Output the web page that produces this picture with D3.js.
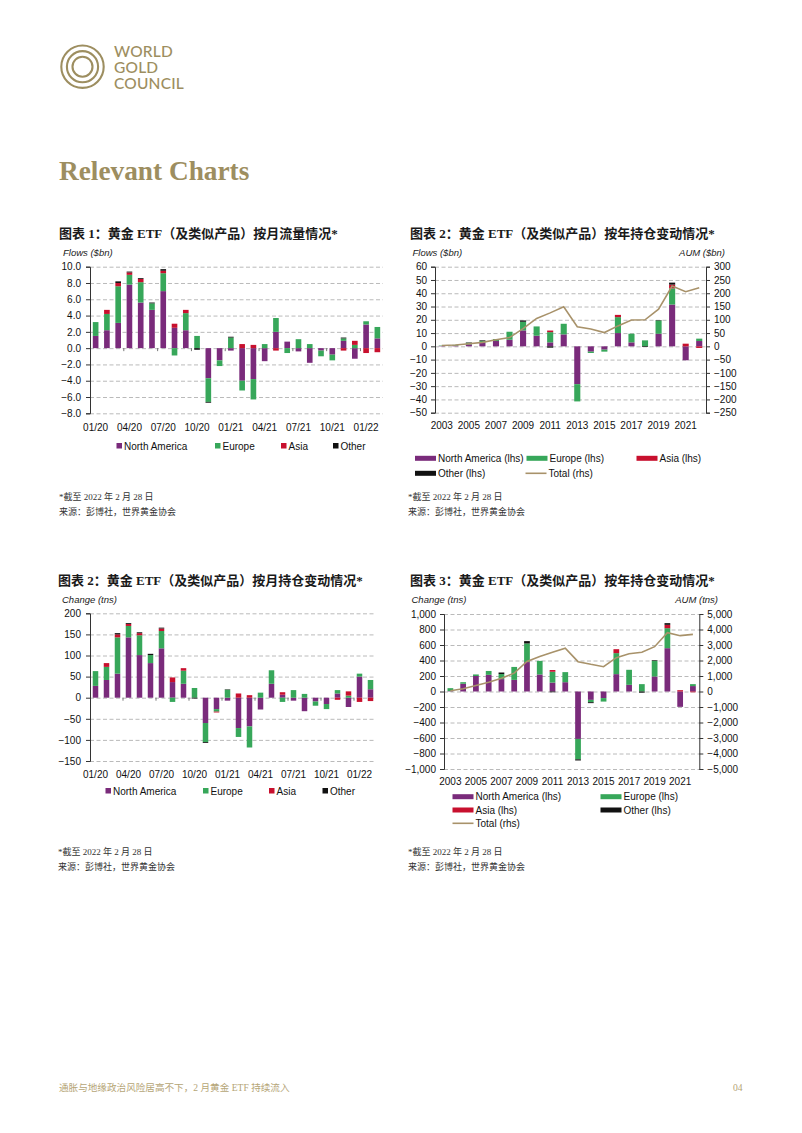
<!DOCTYPE html>
<html><head><meta charset="utf-8">
<script src="https://cdn.jsdelivr.net/npm/d3@7"></script>
<style>
body{margin:0;background:#fff;}
svg{display:block;}
</style></head>
<body>
<script>
// ---------- DATA ----------
const monthLabels = ["01/20","02/20","03/20","04/20","05/20","06/20","07/20","08/20","09/20","10/20","11/20","12/20",
  "01/21","02/21","03/21","04/21","05/21","06/21","07/21","08/21","09/21","10/21","11/21","12/21","01/22","02/22"];
const monthTickLabels = ["01/20","04/20","07/20","10/20","01/21","04/21","07/21","10/21","01/22"];

// Chart 1: monthly flows ($bn)
const flowNA    = [1.5,2.2,3.1,7.8,5.6,4.7,7.0,2.5,2.2,0,-3.7,-1.5,-0.3,-4.0,-3.8,-1.6,2.0,0.8,-0.4,-1.8,-0.3,-0.8,0.9,-1.3,2.9,1.2];
const flowEU    = [1.7,2.0,4.5,1.2,2.5,0.8,2.2,-0.9,2.1,1.5,-2.9,-0.7,1.3,-1.2,-2.5,0.5,1.7,-0.6,1.1,0.5,-0.7,-0.7,0.3,0.4,0.4,1.4];
const flowAsia  = [0,0.5,0.4,0.3,0.4,0,0.3,0.5,0.4,0,0,0,0,0.5,0.4,0,-0.3,0,0,0,0,0,-0.3,0.5,-0.6,-0.5];
const flowOther = [0,0,0.2,0.1,0.1,0.1,0.2,0,0,-0.2,-0.1,0,0.1,0,0,0,0,0,0,0,0,0,0.1,0,0,0];
const flowTicks = [-8,-6,-4,-2,0,2,4,6,8,10];

// Chart 3: monthly holdings change (tonnes)
const tnsNA    = [28,42,57,143,101,82,117,37,33,0,-60,-27,-7,-72,-68,-28,33,7,-7,-32,-9,-15,10,-22,50,20];
const tnsEU    = [35,31,86,27,47,19,41,-10,31,23,-45,-6,19,-21,-50,12,32,-10,18,9,-10,-12,8,5,7,22];
const tnsAsia  = [0,9,7,5,5,0,6,11,6,0,0,-2,0,10,6,0,0,6,0,0,0,0,-5,10,-10,-8];
const tnsOther = [0,0,3,2,2,3,2,0,0,-2,-2,0,1,0,0,0,0,0,0,0,0,0,0,0,0,0];
const tnsTicks = [-150,-100,-50,0,50,100,150,200];

// Chart 2: annual flows ($bn) and AUM ($bn)
const years = d3.range(2003, 2023).map(String);
const yearTickLabels = ["2003","2005","2007","2009","2011","2013","2015","2017","2019","2021"];
const yrFlowNA    = [0.3,0.6,1.5,2.5,4.0,5.0,12.0,8.0,3.0,9.0,-28.5,-4.0,-2.5,10.0,3.0,0,9.5,31.5,-10.5,4.0];
const yrFlowEU    = [0.3,0.5,1.2,1.5,1.5,6.0,6.5,7.0,7.7,8.0,-13.0,-1.0,-1.5,12.0,6.5,4.5,10.0,12.2,0,1.8];
const yrFlowAsia  = [0,0,0,0,0,0,0,0,1.2,0,0,0,0,1.7,0,0,0,2.8,2.0,-1.2];
const yrFlowOther = [0,0,0.3,0.5,0,0,1.0,0,-1.0,0,0,0,0,0,0,-0.5,0.3,1.5,0,0];
const aumUSD      = [3,5,10,15,25,33,67,105,126,149,74,65,52,77,99,100,140,227,206,221];
const yrFlowTicks = [-50,-40,-30,-20,-10,0,10,20,30,40,50,60];
const aumUSDTicks = [-250,-200,-150,-100,-50,0,50,100,150,200,250,300];

// Chart 4: annual holdings change (tonnes) and AUM (tonnes)
const yrTnsNA    = [5,100,200,215,160,150,380,220,115,120,-612,-108,-85,224,86,0,194,559,-198,70];
const yrTnsEU    = [38,20,20,50,65,167,240,175,140,130,-263,-30,-45,271,194,95,202,258,0,25];
const yrTnsAsia  = [0,0,0,0,0,0,0,0,22,0,0,0,0,51,0,0,0,43,17,-10];
const yrTnsOther = [0,0,0,0,20,0,30,0,-10,0,-15,-12,0,0,0,-15,8,22,0,0];
const aumTns     = [43,172,387,602,860,1182,1935,2258,2537,2790,1925,1753,1602,2183,2441,2527,2892,3796,3602,3688];
const yrTnsTicks = [-1000,-800,-600,-400,-200,0,200,400,600,800,1000];
const aumTnsTicks = [-5000,-4000,-3000,-2000,-1000,0,1000,2000,3000,4000,5000];

// ---------- STYLE ----------
const GOLD = "#9d8e60";
const C = {na:"#7a2b7b", eu:"#37a75a", asia:"#c8102e", other:"#111111", total:"#a8926a"};
const SANS = "'Liberation Sans', Arial, sans-serif";
const TITLEF = "'Liberation Serif','Noto Sans CJK SC',serif";

const svg = d3.select("body").append("svg").attr("width",802).attr("height",1133);

// ---------- HEADER ----------
const logo = svg.append("g");
[21.2,15.6,10].forEach(r=>logo.append("circle").attr("cx",82.5).attr("cy",66.7).attr("r",r)
  .attr("fill","none").attr("stroke",GOLD).attr("stroke-width",2.1));
[["WORLD",57],["GOLD",73],["COUNCIL",89]].forEach(([t,yy])=>logo.append("text").attr("x",114).attr("y",yy)
  .attr("font-family","Lato, 'Open Sans', sans-serif").attr("font-size",15.5).attr("fill",GOLD).attr("font-weight",500)
  .attr("letter-spacing",0.2).text(t));
svg.append("text").attr("x",59).attr("y",180).attr("font-family","'Liberation Serif', serif").attr("font-weight","bold")
  .attr("font-size",27.3).attr("fill",GOLD).text("Relevant Charts");

// footer
svg.append("text").attr("x",59).attr("y",1091).attr("font-family",TITLEF).attr("font-size",9.6).attr("fill","#b5a576")
  .text("通胀与地缘政治风险居高不下，2 月黄金 ETF 持续流入");
svg.append("text").attr("x",733).attr("y",1091).attr("font-family",TITLEF).attr("font-size",9.6).attr("fill","#b5a576").text("04");

// ---------- helpers ----------
function title(x,y,t){
  svg.append("text").attr("x",x).attr("y",y).attr("font-family",TITLEF).attr("font-weight","bold")
    .attr("font-size",13).attr("fill","#1a1a1a").text(t);
}
function notes(x,y){
  const f = svg.append("g").attr("font-family",TITLEF).attr("font-size",9).attr("fill","#333");
  f.append("text").attr("x",x).attr("y",y).text("*截至 2022 年 2 月 28 日");
  f.append("text").attr("x",x).attr("y",y+15.5).text("来源：彭博社，世界黄金协会");
}
function italicLabel(x,y,t,anchor){
  svg.append("text").attr("x",x).attr("y",y).attr("font-family",SANS).attr("font-style","italic")
    .attr("font-size",9.5).attr("fill","#222").attr("text-anchor",anchor||"start").text(t);
}

function panel(o){
  const g = svg.append("g");
  const x = d3.scaleBand().domain(o.cats).range([o.left,o.right]).paddingInner(o.pad).paddingOuter(o.pad/2);
  const y = d3.scaleLinear().domain(o.yDomain).range([o.bottom,o.top]);
  // gridlines
  g.append("g").selectAll("line").data(o.yTicks).join("line")
    .attr("x1",o.left).attr("x2",o.right).attr("y1",d=>y(d)+0.5).attr("y2",d=>y(d)+0.5)
    .attr("stroke","#a8a8a8").attr("stroke-width",0.8).attr("stroke-dasharray","4,2.5");
  // bars
  const rows = o.cats.map((c,i)=>{const r={cat:c}; o.series.forEach(s=>r[s.key]=s.values[i]); return r;});
  const stacked = d3.stack().keys(o.series.map(s=>s.key)).offset(d3.stackOffsetDiverging)(rows);
  const colorOf = Object.fromEntries(o.series.map(s=>[s.key,s.color]));
  g.append("g").selectAll("g").data(stacked).join("g").attr("fill",d=>colorOf[d.key])
    .selectAll("rect").data(d=>d).join("rect")
    .attr("x",d=>x(d.data.cat)).attr("width",x.bandwidth())
    .attr("y",d=>y(Math.max(d[0],d[1]))).attr("height",d=>Math.abs(y(d[0])-y(d[1])));
  // x tick marks at zero
  if(o.xTickEvery){
    const step = x.step();
    const marks = d3.range(o.xTickEvery, o.cats.length, o.xTickEvery);
    g.append("g").selectAll("line").data(marks).join("line")
      .attr("x1",d=>o.left+d*step).attr("x2",d=>o.left+d*step).attr("y1",y(0)).attr("y2",y(0)+3)
      .attr("stroke","#555").attr("stroke-width",0.8);
  }
  // left axis
  const ax = g.append("g").attr("transform",`translate(${o.left},0)`)
    .call(d3.axisLeft(y).tickValues(o.yTicks).tickFormat(o.yFmt).tickSize(4).tickPadding(o.tickPad||4));
  ax.selectAll("text").attr("font-family",SANS).attr("font-size",10).attr("fill","#111");
  ax.select(".domain").attr("stroke","#333");
  ax.selectAll(".tick line").attr("stroke","#333");
  // right axis
  let y2 = null;
  if(o.y2Domain){
    y2 = d3.scaleLinear().domain(o.y2Domain).range([o.bottom,o.top]);
    const ax2 = g.append("g").attr("transform",`translate(${o.right},0)`)
      .call(d3.axisRight(y2).tickValues(o.y2Ticks).tickFormat(o.y2Fmt).tickSize(4).tickPadding(4));
    ax2.selectAll("text").attr("font-family",SANS).attr("font-size",10).attr("fill","#111");
    ax2.select(".domain").attr("stroke","#333");
    ax2.selectAll(".tick line").attr("stroke","#333");
    const line = d3.line().x((d,i)=>x(o.cats[i])+x.bandwidth()/2).y(d=>y2(d));
    g.append("path").datum(o.line).attr("d",line).attr("fill","none").attr("stroke",C.total).attr("stroke-width",1.6);
  }
  // x labels
  g.append("g").selectAll("text").data(o.xLabels).join("text")
    .attr("x",d=>x(d)+x.bandwidth()/2).attr("y",o.xLabelY).attr("text-anchor","middle")
    .attr("font-family",SANS).attr("font-size",10).attr("fill","#111").text(d=>d);
  return {x,y,y2};
}

function sqLegend(items, y){
  const g = svg.append("g").attr("font-family",SANS).attr("font-size",10).attr("fill","#111");
  items.forEach(([sx,label,color])=>{
    g.append("rect").attr("x",sx).attr("y",y-3).attr("width",5.5).attr("height",5.5).attr("fill",color);
    g.append("text").attr("x",sx+7.5).attr("y",y+3.5).text(label);
  });
}
function barLegend(items){
  const g = svg.append("g").attr("font-family",SANS).attr("font-size",10).attr("fill","#111");
  items.forEach(([sx,y,label,color,isLine])=>{
    if(isLine) g.append("line").attr("x1",sx).attr("x2",sx+21).attr("y1",y).attr("y2",y).attr("stroke",color).attr("stroke-width",1.6);
    else g.append("rect").attr("x",sx).attr("y",y-2.5).attr("width",21).attr("height",5).attr("fill",color);
    g.append("text").attr("x",sx+23).attr("y",y+3.5).text(label);
  });
}

// ---------- CHART 1 ----------
title(59,237.5,"图表 1：黄金 ETF（及类似产品）按月流量情况*");
italicLabel(63,256,"Flows ($bn)");
panel({cats:monthLabels, left:90, right:383, top:266.7, bottom:413.3, pad:0.5,
  yDomain:[-8,10], yTicks:flowTicks, yFmt:d3.format(".1f"), tickPad:5,
  series:[{key:"na",values:flowNA,color:C.na},{key:"eu",values:flowEU,color:C.eu},
          {key:"asia",values:flowAsia,color:C.asia},{key:"other",values:flowOther,color:C.other}],
  xLabels:monthTickLabels, xLabelY:430.5, xTickEvery:3});
sqLegend([[116.5,"North America",C.na],[215,"Europe",C.eu],[281,"Asia",C.asia],[333,"Other",C.other]],446);
notes(59,499.5);

// ---------- CHART 2 ----------
title(410,237.5,"图表 2：黄金 ETF（及类似产品）按年持仓变动情况*");
italicLabel(412.5,256,"Flows ($bn)");
italicLabel(725,256,"AUM ($bn)","end");
panel({cats:years, left:435, right:706, top:266.7, bottom:412.7, pad:0.55,
  yDomain:[-50,60], yTicks:yrFlowTicks, yFmt:d3.format("d"),
  y2Domain:[-250,300], y2Ticks:aumUSDTicks, y2Fmt:d3.format("d"), line:aumUSD,
  series:[{key:"na",values:yrFlowNA,color:C.na},{key:"eu",values:yrFlowEU,color:C.eu},
          {key:"asia",values:yrFlowAsia,color:C.asia},{key:"other",values:yrFlowOther,color:C.other}],
  xLabels:yearTickLabels, xLabelY:429});
barLegend([[415,458.3,"North America (lhs)",C.na],[526.5,458.3,"Europe (lhs)",C.eu],[636.5,458.3,"Asia (lhs)",C.asia],
  [415,473.3,"Other (lhs)",C.other],[525.5,473.3,"Total (rhs)",C.total,true]]);
notes(408,499.5);

// ---------- CHART 3 ----------
title(58,584.5,"图表 2：黄金 ETF（及类似产品）按月持仓变动情况*");
italicLabel(62,602.5,"Change (tns)");
panel({cats:monthLabels, left:90, right:376, top:613.3, bottom:761, pad:0.5,
  yDomain:[-150,200], yTicks:tnsTicks, yFmt:d3.format("d"), tickPad:5,
  series:[{key:"na",values:tnsNA,color:C.na},{key:"eu",values:tnsEU,color:C.eu},
          {key:"asia",values:tnsAsia,color:C.asia},{key:"other",values:tnsOther,color:C.other}],
  xLabels:monthTickLabels, xLabelY:778, xTickEvery:3});
sqLegend([[105.5,"North America",C.na],[203,"Europe",C.eu],[269,"Asia",C.asia],[322.5,"Other",C.other]],791);
notes(58,854.5);

// ---------- CHART 4 ----------
title(410,584.5,"图表 3：黄金 ETF（及类似产品）按年持仓变动情况*");
italicLabel(411.5,602.5,"Change (tns)");
italicLabel(718,602.5,"AUM (tns)","end");
panel({cats:years, left:444, right:699.3, top:614, bottom:769, pad:0.55,
  yDomain:[-1000,1000], yTicks:yrTnsTicks, yFmt:d3.format(","),
  y2Domain:[-5000,5000], y2Ticks:aumTnsTicks, y2Fmt:d3.format(","), line:aumTns,
  series:[{key:"na",values:yrTnsNA,color:C.na},{key:"eu",values:yrTnsEU,color:C.eu},
          {key:"asia",values:yrTnsAsia,color:C.asia},{key:"other",values:yrTnsOther,color:C.other}],
  xLabels:yearTickLabels, xLabelY:785});
barLegend([[452.5,796.7,"North America (lhs)",C.na],[600.5,796.7,"Europe (lhs)",C.eu],
  [452.5,810,"Asia (lhs)",C.asia],[600.5,810,"Other (lhs)",C.other],[452.5,823.3,"Total (rhs)",C.total,true]]);
notes(408,854.5);
</script>
</body></html>
